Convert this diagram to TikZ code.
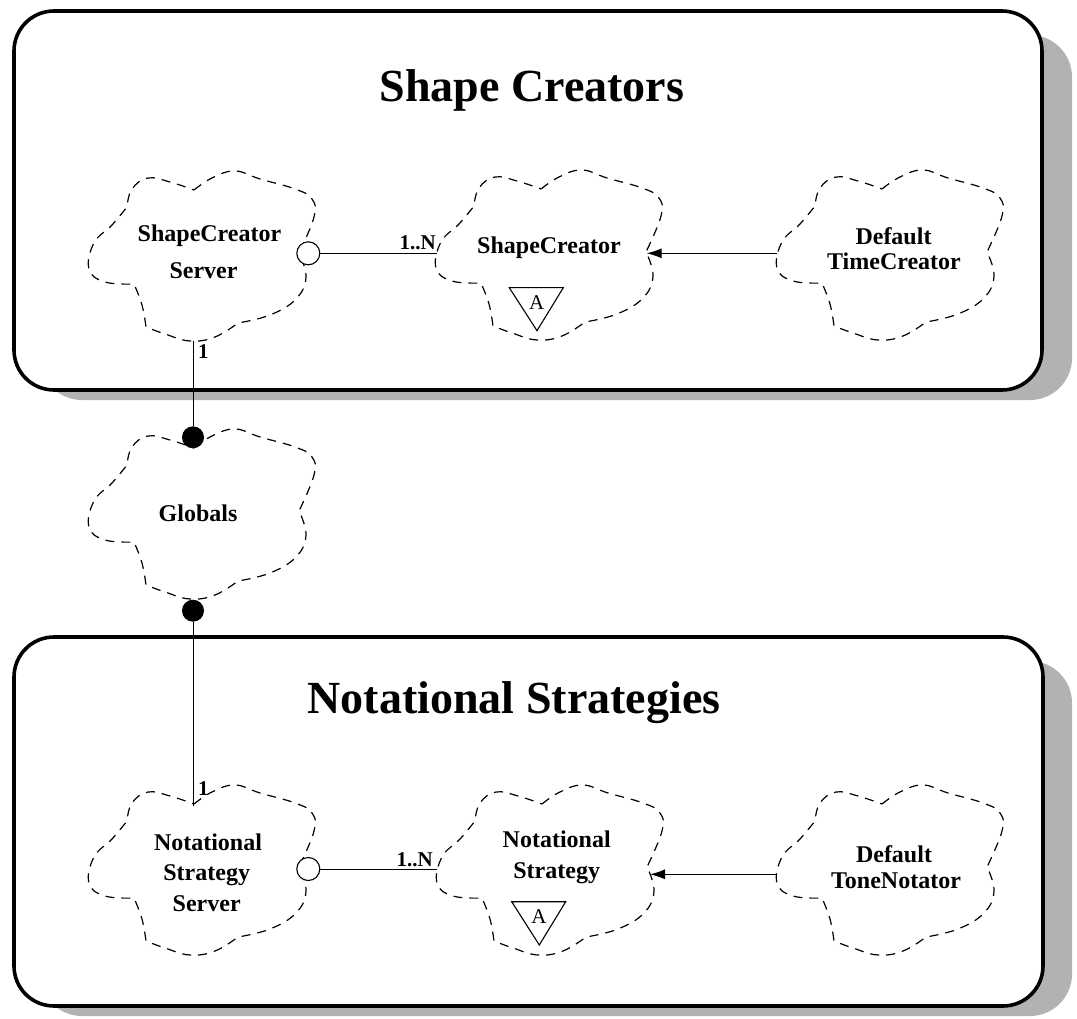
\documentclass[tikz,border=0pt]{standalone}
\usepackage{fontspec}
\setmainfont{Liberation Serif}
\usetikzlibrary{calc,arrows.meta}

\begin{document}
\begin{tikzpicture}[x=1pt,y=-1pt,
  panel/.style={line width=3.6pt, rounded corners=40pt, fill=white},
  panelshadow/.style={fill=black!30, rounded corners=42pt},
  cloudline/.style={line width=1.2pt, dash pattern=on 9pt off 7pt, line join=round},
  cloudlabel/.style={font=\fontsize{24}{24}\selectfont\bfseries, inner sep=0pt, anchor=base},
  title/.style={font=\fontsize{46}{46}\selectfont\bfseries, inner sep=0pt, anchor=base},
  mult/.style={font=\fontsize{21}{21}\selectfont\bfseries, inner sep=0pt},
  absmark/.style={font=\fontsize{21}{21}\selectfont, inner sep=0pt, anchor=base},
  link/.style={line width=1pt},
  hollowdot/.style={circle, draw, line width=1.1pt, fill=white, minimum size=23pt, inner sep=0pt},
  soliddot/.style={circle, fill=black, minimum size=22pt, inner sep=0pt},
  boochcloud/.pic={
    \draw[cloudline]
      plot[smooth, tension=0.7] coordinates {(-6,-67) (12,-79) (35,-86) (60,-78) (95,-68) (112,-58) (114,-40) (99,-4)}
      -- plot[smooth, tension=0.7] coordinates {(99,-4) (106,20) (96,42) (70,58) (38,66)}
      -- plot[smooth, tension=0.7] coordinates {(38,66) (15,80) (-10,84) (-35,77) (-54,70)}
      -- plot[smooth, tension=0.7] coordinates {(-54,70) (-58,48) (-66,27)}
      -- plot[smooth, tension=0.7] coordinates {(-66,27) (-95,25) (-111,12) (-106,-14) (-88,-32) (-73,-50)}
      -- plot[smooth, tension=0.7] coordinates {(-73,-50) (-68,-68) (-52,-79) (-30,-75) (-6,-67)}
      -- cycle;
  }
]
\useasboundingbox (0,0) rectangle (1077,1019);

% packages with drop shadows
\fill[panelshadow] (40,35) rectangle (1072,400);
\draw[panel] (14,11) rectangle (1042,390);
\fill[panelshadow] (40,661) rectangle (1072,1016);
\draw[panel] (14,637) rectangle (1043,1006);

\node[title] (t1) at (532,102) {Shape Creators};
\node[title] (t2) at (514,713) {Notational Strategies};

% class clouds
\coordinate (scs) at (200,257);
\coordinate (sc)  at (547,256);
\coordinate (dtc) at (888,256);
\coordinate (glb) at (200,515);
\coordinate (nss) at (200,871);
\coordinate (ns)  at (548,871);
\coordinate (dtn) at (888,871);
\foreach \c in {scs,sc,dtc,glb,nss,ns,dtn} \pic at (\c) {boochcloud};

\node[cloudlabel] (scs-a) at (209.5,241.7) {ShapeCreator};
\node[cloudlabel] (scs-b) at (203.5,278.3) {Server};
\node[cloudlabel] (sc-a)  at (549,254) {ShapeCreator};
\node[cloudlabel] (dtc-a) at (893.5,245) {Default};
\node[cloudlabel] (dtc-b) at (894,269.3) {TimeCreator};
\node[cloudlabel] (glb-a) at (198,521.7) {Globals};
\node[cloudlabel] (nss-a) at (208,850.7) {Notational};
\node[cloudlabel] (nss-b) at (206.7,880.7) {Strategy};
\node[cloudlabel] (nss-c) at (206.7,911.7) {Server};
\node[cloudlabel] (ns-a)  at (556.7,847.3) {Notational};
\node[cloudlabel] (ns-b)  at (556.7,878.3) {Strategy};
\node[cloudlabel] (dtn-a) at (894,862.7) {Default};
\node[cloudlabel] (dtn-b) at (896,888.3) {ToneNotator};

% abstract adornments
\node[absmark] (sc-abs) at (536.7,309) {A};
\draw[line width=1.1pt, line join=miter] (509.3,287.7) -- (563.3,287.7) -- (537,330.7) -- cycle;
\node[absmark] (ns-abs) at (539,923) {A};
\draw[line width=1.1pt, line join=miter] (511.7,901.7) -- (565.7,901.7) -- (539.3,945) -- cycle;

% connection points on cloud outlines
\coordinate (sc-w)  at (437,253.3);
\coordinate (sc-e)  at (646.7,253.3);
\coordinate (dtc-w) at (776.7,253.3);
\coordinate (scs-s) at (193,341);
\coordinate (nss-n) at (193,806);
\coordinate (ns-w)  at (436.7,869);
\coordinate (ns-e)  at (650,874.3);
\coordinate (dtn-w) at (776,874.3);

% ports
\node[hollowdot] (scs-port) at (308.3,253.3) {};
\node[hollowdot] (nss-port) at (308.3,869) {};
\node[soliddot] (glb-top) at (193,437.3) {};
\node[soliddot] (glb-bot) at (193,610.7) {};

% relationships
\draw[link] (scs-port) -- (sc-w);
\draw[link] (nss-port) -- (ns-w);
\draw[link, -{Latex[length=15pt,width=10pt]}] (dtc-w) -- (sc-e);
\draw[link, -{Latex[length=15pt,width=10pt]}] (dtn-w) -- (ns-e);
\draw[link] (scs-s) -- (glb-top);
\draw[link] (glb-bot) -- (nss-n);

\node[mult, anchor=base east] (m1) at (436,250) {1..N};
\node[mult, anchor=base east] (m2) at (433,866.5) {1..N};
\node[mult, anchor=base west] (m3) at (198,358) {1};
\node[mult, anchor=base west] (m4) at (198,795) {1};
\end{tikzpicture}
\end{document}
